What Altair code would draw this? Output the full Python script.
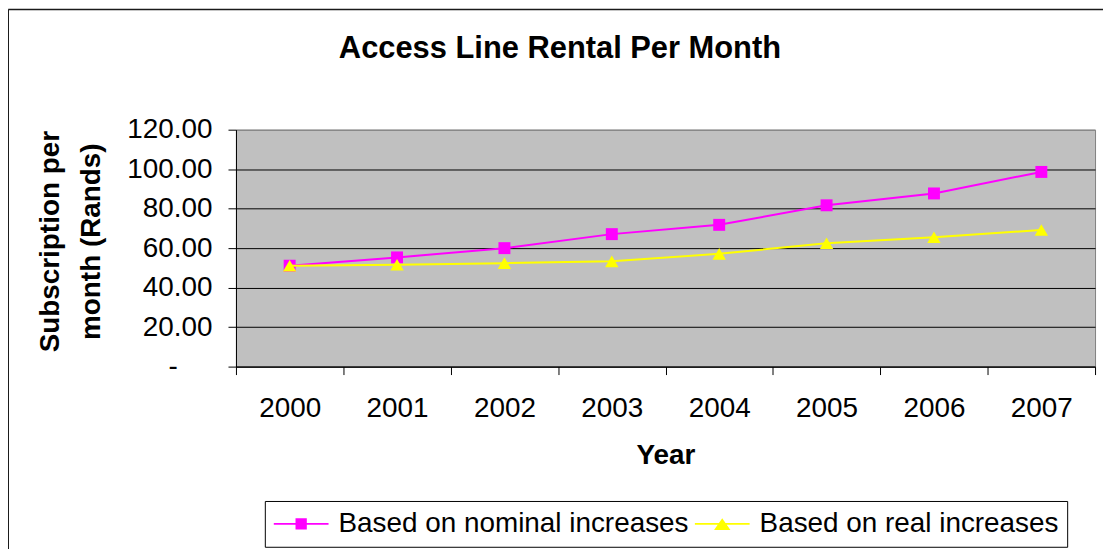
import altair as alt
import pandas as pd

years = ["2000", "2001", "2002", "2003", "2004", "2005", "2006", "2007"]
nominal = [51.1, 55.3, 60.0, 67.1, 71.8, 81.7, 87.7, 98.6]
real = [51.1, 51.6, 52.4, 53.3, 57.1, 62.5, 65.5, 69.2]
series_names = ["Based on nominal increases", "Based on real increases"]
series_colors = ["#FF00FF", "#FFFF00"]
legend_shapes = [
    "M-1,0L1,0M-0.17,-0.17L0.17,-0.17L0.17,0.17L-0.17,0.17Z",
    "M-1,0L1,0M0,-0.14L0.23,0.19L-0.23,0.19Z",
]
y_ticks = [0, 20, 40, 60, 80, 100, 120]

FONT = "Liberation Sans"

rows = []
for name, vals in zip(series_names, [nominal, real]):
    for yr, v in zip(years, vals):
        rows.append({"Year": yr, "value": v, "series": name})
df = pd.DataFrame(rows)
legend_df = pd.DataFrame({"series": series_names, "value": [-50, -50]})

x_enc = alt.X(
    "Year:O",
    scale=alt.Scale(type="band", paddingInner=0, paddingOuter=0),
    axis=alt.Axis(
        labelAngle=0,
        tickBand="extent",
        tickSize=8,
        labelPadding=20,
        grid=False,
        titleBaseline="alphabetic",
        titleY=97,
    ),
    title="Year",
)
y_enc = alt.Y(
    "value:Q",
    scale=alt.Scale(domain=[0, 120], nice=False),
    axis=alt.Axis(
        values=y_ticks,
        tickCount=7,
        labelExpr="datum.value == 0 ? '-' : format(datum.value, '.2f')",
        labelOverlap=False,
        tickSize=8,
        labelPadding={"condition": {"test": "datum.value == 0", "value": 51}, "value": 16},
        grid=True,
        gridColor={"condition": {"test": "datum.value == 120", "value": "#808080"}, "value": "#000000"},
        gridWidth=1,
        titleAngle=-90,
        titleAlign="center",
        titleBaseline="alphabetic",
        titleX=-178,
        titleY=112,
        titleLineHeight=41,
    ),
    title=["Subscription per", "month (Rands)"],
)
color_scale = alt.Scale(domain=series_names, range=series_colors)


def series_layers(idx, shape, size):
    base = alt.Chart(df).transform_filter(alt.datum.series == series_names[idx])
    line = base.mark_line(strokeWidth=2, color=series_colors[idx]).encode(x=x_enc, y=y_enc)
    pts = base.mark_point(
        shape=shape, filled=True, size=size, opacity=1, color=series_colors[idx]
    ).encode(x=x_enc, y=y_enc)
    return [line, pts]


legend_layer = alt.Chart(legend_df).mark_point(filled=True, strokeWidth=2, opacity=1, clip=True).encode(
    y=y_enc,
    color=alt.Color("series:N", scale=color_scale, title=None),
    stroke=alt.Stroke("series:N", scale=color_scale, title=None),
    shape=alt.Shape("series:N", scale=alt.Scale(domain=series_names, range=legend_shapes), title=None),
)

frame_df = pd.DataFrame({"k": [0]})
frame_left = alt.Chart(frame_df).mark_rule(color="#1a1a1a", strokeWidth=1.5).encode(
    x=alt.value(-228.75), y=alt.value(-120.75), y2=alt.value(600)
)
frame_top = alt.Chart(frame_df).mark_rule(color="#1a1a1a", strokeWidth=1.5).encode(
    x=alt.value(-228.75), x2=alt.value(1000), y=alt.value(-120.75)
)

layers = series_layers(0, "square", 144) + series_layers(1, "triangle-up", 180) + [legend_layer, frame_left, frame_top]

chart = (
    alt.layer(*layers)
    .properties(
        width=863,
        height=238,
        autosize=alt.AutoSizeParams(type="none"),
        padding={"left": 229, "top": 121, "right": 8, "bottom": 182},
        title=alt.TitleParams(
            "Access Line Rental Per Month",
            font=FONT,
            fontSize=31,
            fontWeight="bold",
            color="black",
            anchor="middle",
            frame="group",
            dx=-106,
            baseline="alphabetic",
            offset=-80,
        ),
        background="white",
    )
    .configure_view(fill="#C0C0C0", stroke="#808080", strokeWidth=1)
    .configure_axis(
        labelFont=FONT,
        titleFont=FONT,
        labelFontSize=28,
        titleFontSize=28,
        titleFontWeight="bold",
        labelColor="black",
        titleColor="black",
        domainColor="black",
        tickColor="black",
        domainWidth=1,
        tickWidth=1,
    )
    .configure_legend(
        orient="none",
        legendX=29,
        legendY=373,
        direction="horizontal",
        strokeColor="#000000",
        fillColor="white",
        padding=8,
        labelFont=FONT,
        labelFontSize=28,
        labelColor="black",
        labelLimit=0,
        labelOffset=9,
        columnPadding=5,
        symbolSize=3025,
        symbolStrokeWidth=2,
        clipHeight=30,
        cornerRadius=0,
    )
)

chart.save("out.html", embed_options={"renderer": "svg", "actions": False})
